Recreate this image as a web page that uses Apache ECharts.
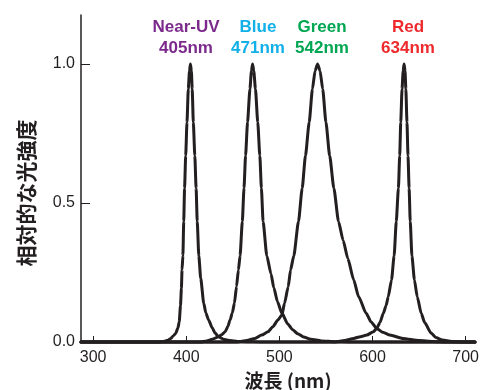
<!DOCTYPE html>
<html>
<head>
<meta charset="utf-8">
<script src="https://cdn.jsdelivr.net/npm/echarts@6/dist/echarts.min.js"></script>
<style>
html,body{margin:0;padding:0;background:#fff;}
#c{width:482px;height:390px;}
</style>
</head>
<body>
<div id="c"></div>
<script>
// ---- data ----
const xTicks = [300, 400, 500, 600, 700];
const yTicks = [0, 0.5, 1.0];

const uvNm  = [287,370,376,380,383.5,386,388.7,391,392.5,393.8,394.8,395.5,396.4,397.3,398.2,399.4,400.8,402.2,403.5,404.5,405.5,406.4,407.6,409.2,410.6,411.8,413.5,415.5,418.8,421,424,428,431,434.7,440,447,455,465,480,710];
const uvVal = [0,0,0.002,0.006,0.013,0.022,0.031,0.05,0.073,0.13,0.193,0.26,0.31,0.433,0.553,0.67,0.79,0.91,0.975,1.0,0.975,0.91,0.79,0.67,0.553,0.433,0.31,0.23,0.139,0.105,0.079,0.05,0.032,0.019,0.01,0.005,0.002,0.001,0,0];

const blueNm  = [287,415,422,428,434.7,438,441.8,444.5,447.1,449.5,451.7,454,456,457.8,460.2,462,463.7,465.8,468.4,470,471.2,472.5,474.3,476.8,479,480.7,482.5,486.5,491,494,498,502.5,509,514,519.6,526,533.7,545,560,575,710];
const blueVal = [0,0,0.004,0.01,0.019,0.026,0.037,0.055,0.079,0.105,0.139,0.2,0.259,0.31,0.433,0.553,0.67,0.79,0.91,0.975,1.0,0.975,0.91,0.79,0.67,0.553,0.433,0.31,0.245,0.195,0.145,0.105,0.065,0.045,0.03,0.018,0.01,0.004,0.001,0,0];

const greenNm  = [287,455,465,473.7,481,487.8,493,498.4,502.7,505.5,509.5,512,515.5,520.5,524.5,528,532,535.5,538.3,541,543.7,546.5,550,554,558.5,563.5,568.5,573.5,579.8,585.1,593.2,598.5,604.5,611,618.6,632.7,650,665,680,710];
const greenVal = [0,0,0.005,0.013,0.025,0.037,0.055,0.079,0.097,0.139,0.199,0.259,0.31,0.433,0.553,0.67,0.79,0.91,0.975,1.0,0.975,0.91,0.79,0.67,0.553,0.433,0.365,0.3,0.223,0.163,0.103,0.072,0.049,0.035,0.025,0.013,0.005,0.002,0,0];

const redNm  = [287,560,570,579.8,587,593.9,601,604.5,608,611.6,614.5,616.9,620.4,623.2,625.5,627.8,629.2,630.3,631.7,632.9,633.9,634.9,635.8,637,638.1,639.3,640.5,642.3,645,648,652.3,656,662.9,668,675,685,700,710];
const redVal = [0,0,0.005,0.013,0.019,0.025,0.037,0.049,0.07,0.103,0.13,0.163,0.223,0.31,0.433,0.553,0.67,0.79,0.91,0.975,1.0,0.975,0.91,0.79,0.67,0.553,0.433,0.31,0.223,0.163,0.103,0.07,0.032,0.016,0.007,0.002,0,0];

const peakNames  = ['Near-UV', 'Blue', 'Green', 'Red'];
const peakLabels = ['405nm', '471nm', '542nm', '634nm'];
const peakColors = ['#7b2a8c', '#12b0e8', '#00a651', '#ee2a2e'];
const xName = '波長 (nm)';
const yName = '相対的な光強度';

// ---- chart ----
const ink = '#231f20';
const pairs = (xs, ys) => xs.map((x, i) => [x, ys[i]]);
const curves = [[uvNm, uvVal], [blueNm, blueVal], [greenNm, greenVal], [redNm, redVal]];
const labelX = [186, 258, 322, 408];

const chart = echarts.init(document.getElementById('c'), null, {renderer: 'canvas'});
const graphics = [];
peakNames.forEach((n, i) => {
  graphics.push({type: 'text', x: labelX[i], y: 27, style: {text: n, fill: peakColors[i], font: 'bold 17px "Liberation Sans", Arial, sans-serif', textAlign: 'center', textVerticalAlign: 'middle'}});
  graphics.push({type: 'text', x: labelX[i], y: 48, style: {text: peakLabels[i], fill: peakColors[i], font: 'bold 17px "Liberation Sans", Arial, sans-serif', textAlign: 'center', textVerticalAlign: 'middle'}});
});
graphics.push({type: 'text', x: 288, y: 381, style: {text: xName, fill: ink, font: 'bold 19px "Noto Sans CJK JP", sans-serif', textAlign: 'center', textVerticalAlign: 'middle'}});
graphics.push({type: 'text', x: 26, y: 193, rotation: Math.PI / 2, style: {text: yName, fill: ink, font: 'bold 21px "Noto Sans CJK JP", sans-serif', textAlign: 'center', textVerticalAlign: 'middle'}});

chart.setOption({
  animation: false,
  backgroundColor: '#fff',
  grid: {left: 81, right: 3, top: 15, bottom: 48},
  xAxis: {
    type: 'value', min: 287, max: 710,
    axisLine: {show: true, onZero: false, lineStyle: {color: ink, width: 1.5}},
    axisTick: {show: true, inside: true, length: 6, customValues: xTicks, lineStyle: {color: ink, width: 1}},
    axisLabel: {show: true, customValues: xTicks, margin: 8, fontSize: 16, color: ink, fontFamily: '"Liberation Sans", Arial, sans-serif'},
    splitLine: {show: false}
  },
  yAxis: {
    type: 'value', min: 0, max: 1.176,
    axisLine: {show: true, lineStyle: {color: ink, width: 1.5}},
    axisTick: {show: true, inside: true, length: 9, customValues: yTicks, lineStyle: {color: ink, width: 1}},
    axisLabel: {show: true, customValues: yTicks, margin: 6, fontSize: 16, color: ink, fontFamily: '"Liberation Sans", Arial, sans-serif', formatter: v => v.toFixed(1)},
    splitLine: {show: false}
  },
  series: curves.map(c => ({
    type: 'line', data: pairs(c[0], c[1]), showSymbol: false, symbol: 'none',
    smooth: 0.2, smoothMonotone: 'x', clip: false,
    lineStyle: {color: ink, width: 3, join: 'round', cap: 'round'}
  })),
  graphic: graphics
});
</script>
</body>
</html>
